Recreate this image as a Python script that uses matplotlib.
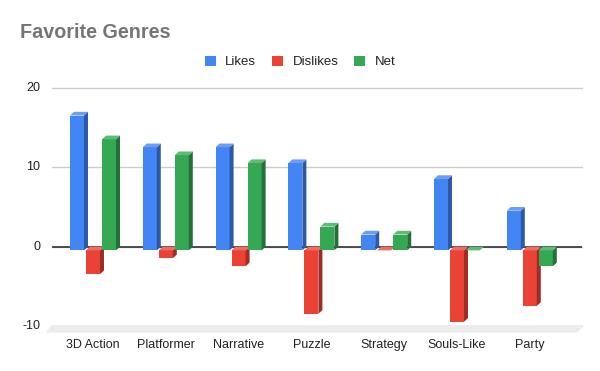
import matplotlib.pyplot as plt
from matplotlib.patches import Polygon, Rectangle

# chart data
genres = ["3D Action", "Platformer", "Narrative", "Puzzle", "Strategy", "Souls-Like", "Party"]
likes = [17, 13, 13, 11, 2, 9, 5]
dislikes = [-3, -1, -2, -8, 0, -9, -7]
net = [14, 12, 11, 3, 2, 0, -2]
yticks = [-10, 0, 10, 20]

series = [
  ("Likes", likes, "#4285F4", "#2C58A8", "#6A9EF6"),
  ("Dislikes", dislikes, "#EA4335", "#9E2D25", "#EF6C61"),
  ("Net", net, "#34A853", "#23703A", "#5DBB76"),
]

W, H = 600, 371
fig = plt.figure(figsize=(6, 3.71), dpi=100)
plt.rcParams['font.family'] = ['Liberation Sans', 'DejaVu Sans']
ax = fig.add_axes([52 / W, (H - 326) / H, 530 / W, 238 / H])
ax.set_xlim(-0.563, 6.717)
ax.set_ylim(-10, 20)
ax.axis("off")

# pixel -> data conversion for the 3D offset
px_x = (6.717 + 0.563) / 530
px_y = 30 / 238
dx, dy = 4 * px_x, 3.7 * px_y

# gridlines and floor
for t in yticks:
  ax.plot([-0.563, 6.717], [t, t], color="#cccccc", lw=1, zorder=0, clip_on=False)
  ax.text(-0.563 - 12 * px_x, t, str(t), ha="right", va="center", fontsize=9, color="#222222")
ax.add_patch(Polygon([(-0.563, -10), (6.717, -10), (6.717 - 5 * px_x, -10 - 6 * px_y),
                      (-0.563 - 5 * px_x, -10 - 6 * px_y)], closed=True, color="#ececec",
                     zorder=0, clip_on=False))
ax.plot([-0.563, 6.717], [0, 0], color="#333333", lw=1.2, zorder=1)

slot = 0.22
width = 14 * px_x
for k, (name, vals, front, side, top) in enumerate(series):
  for i, v in enumerate(vals):
    xc = i + (k - 1) * slot
    x0, x1 = xc - width / 2, xc + width / 2
    lo, hi = min(0, v), max(0, v)
    # front face sits down-left of the value plane
    ax.add_patch(Rectangle((x0, lo - dy), width, hi - lo, color=front, zorder=3, lw=0, clip_on=False))
    ax.add_patch(Polygon([(x1, lo - dy), (x1 + dx, lo), (x1 + dx, hi), (x1, hi - dy)],
                         closed=True, color=side, zorder=3, lw=0, clip_on=False))
    ax.add_patch(Polygon([(x0, hi - dy), (x1, hi - dy), (x1 + dx, hi), (x0 + dx, hi)],
                         closed=True, color=top, zorder=3, lw=0, clip_on=False))
  ax.bar([0], [0], color=front, label=name)

for i, g in enumerate(genres):
  ax.text(i, -10 - 19 * px_y, g, ha="center", va="center", fontsize=9, color="#222222")

fig.text(20 / W, 1 - 32 / H, "Favorite Genres", fontsize=14.2, fontweight="bold",
         color="#757575", va="center", ha="left")
fig.legend(loc="center", bbox_to_anchor=(300 / W, 1 - 62 / H), ncol=3, frameon=False,
           fontsize=9.5, handlelength=0.85, handleheight=0.85, handletextpad=0.7, columnspacing=1.2,
           labelcolor="#222222")

fig.savefig("out.png", dpi=100)
